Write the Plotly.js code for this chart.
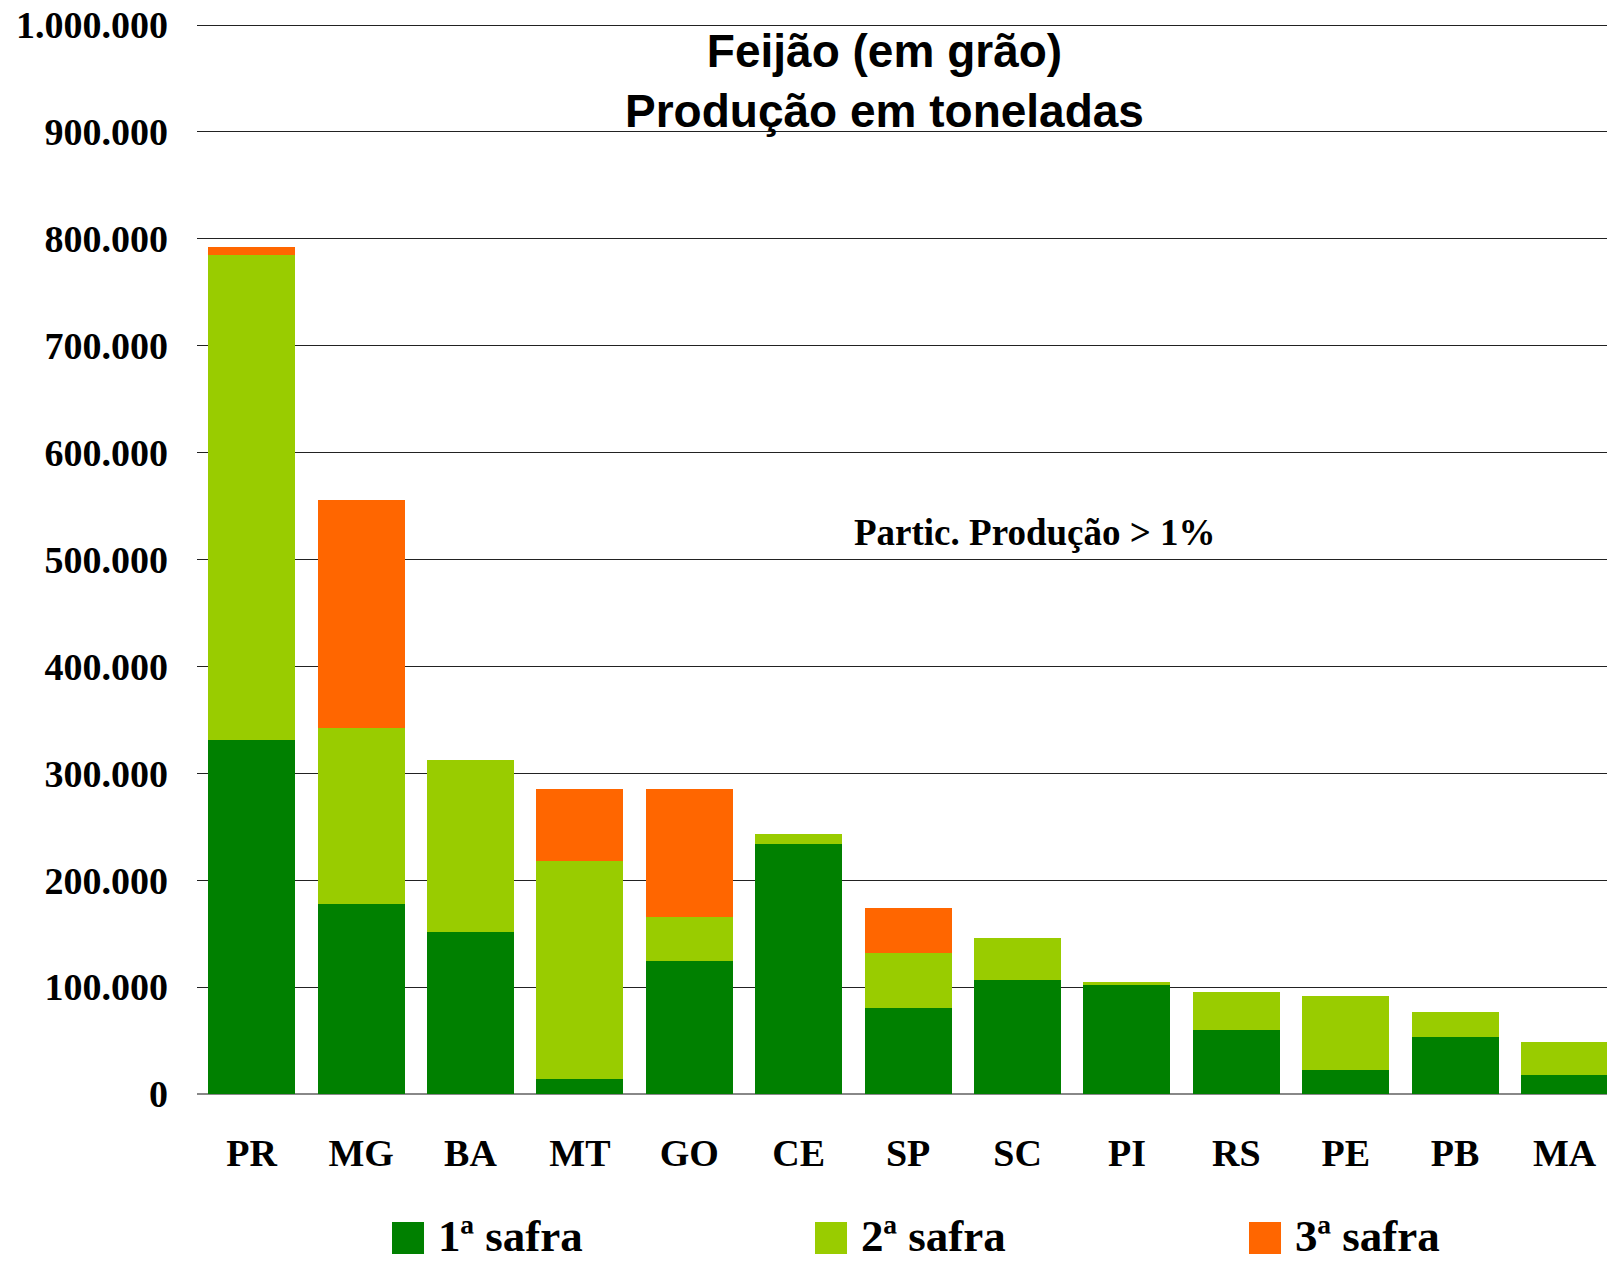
<!DOCTYPE html>
<html>
<head>
<meta charset="utf-8">
<script src="https://cdn.plot.ly/plotly-3.0.1.min.js"></script>
<style>
  body { margin: 0; background: #fff; }
  #plot { width: 1607px; height: 1261px; }
</style>
</head>
<body>
<div id="plot"></div>
<script>
// estados com participação > 1% na produção
const states = ["PR", "MG", "BA", "MT", "GO", "CE", "SP", "SC", "PI", "RS", "PE", "PB", "MA"];

// produção em toneladas
const safra1 = [331000, 178000, 152000, 14000, 124000, 234000, 80000, 107000, 102000, 60000, 22000, 53000, 18000];
const safra2 = [454000, 164000, 160000, 204000, 42000, 9000, 52000, 39000, 3000, 35000, 70000, 24000, 31000];
const safra3 = [7000, 214000, null, 67000, 119000, null, 42000, null, null, null, null, null, null];

const seriesNames = ["1ª safra", "2ª safra", "3ª safra"];
const seriesColors = ["#008000", "#99CC00", "#FF6600"];

const yTicks = [0, 100000, 200000, 300000, 400000, 500000, 600000, 700000, 800000, 900000, 1000000];

const serif = "Liberation Serif, Times New Roman, serif";
const sans = "Liberation Sans, Arial, sans-serif";

const data = [safra1, safra2, safra3].map((vals, i) => ({
	type: "bar",
	name: seriesNames[i],
	x: states,
	y: vals,
	marker: { color: seriesColors[i], line: { width: 0 } },
	showlegend: false
}));

// legenda desenhada à mão (quadrados grandes como no original)
const legendX = [0.1383, 0.4383, 0.7461];  // posição do quadrado (paper)
const shapes = [];
const annotations = [];
legendX.forEach((x0, i) => {
	shapes.push({
		type: "rect", xref: "paper", yref: "paper",
		x0: x0, x1: x0 + 0.0227, y0: -0.1492, y1: -0.1194,
		fillcolor: seriesColors[i], line: { width: 0 }
	});
	annotations.push({
		xref: "paper", yref: "paper",
		x: x0 + 0.0315, y: -0.1575,
		xanchor: "left", yanchor: "bottom",
		text: seriesNames[i], showarrow: false,
		font: { family: serif, size: 45, weight: "bold", color: "#000" }
	});
});

annotations.push({
	xref: "paper", yref: "paper",
	x: 0.594, y: 0.5235,
	xanchor: "center", yanchor: "middle",
	text: "Partic. Produção > 1%", showarrow: false,
	font: { family: serif, size: 37, weight: "bold", color: "#000" }
});

const layout = {
	width: 1607,
	height: 1261,
	barmode: "stack",
	bargap: 0.205,
	separators: ",.",
	margin: { l: 197, r: 0, t: 22, b: 167 },
	paper_bgcolor: "#fff",
	plot_bgcolor: "#fff",
	title: {
		text: "Feijão (em grão)<br>Produção em toneladas",
		font: { family: sans, size: 46, weight: "bold", color: "#000" },
		xref: "container", x: 0.5504, xanchor: "center",
		yref: "container", y: 1 - 67 / 1261, yanchor: "top"
	},
	xaxis: {
		type: "category",
		range: [-0.5, 12.388],
		showgrid: false,
		showline: false,
		ticks: "",
		ticklabelstandoff: 33,
		tickfont: { family: serif, size: 38, weight: "bold", color: "#000" }
	},
	yaxis: {
		range: [0, 1002806],
		tickvals: yTicks,
		tickformat: ",d",
		showgrid: true,
		gridcolor: "#222",
		gridwidth: 1,
		zeroline: true,
		zerolinecolor: "#888",
		zerolinewidth: 2,
		showline: false,
		ticks: "",
		ticklabelstandoff: 28,
		tickfont: { family: serif, size: 38, weight: "bold", color: "#000" }
	},
	shapes: shapes,
	annotations: annotations
};

Plotly.newPlot("plot", data, layout, { displayModeBar: false });
</script>
</body>
</html>
